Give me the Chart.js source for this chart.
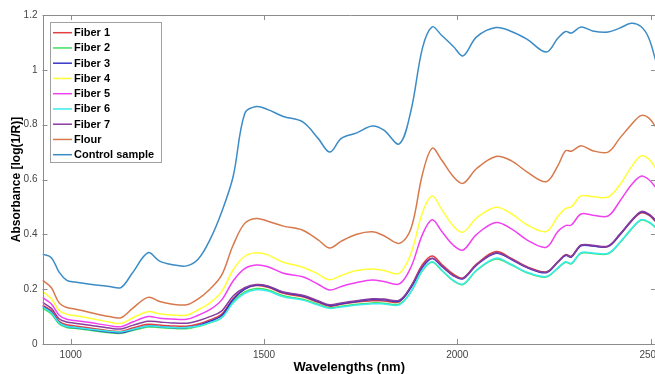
<!DOCTYPE html>
<html>
<head>
<meta charset="utf-8">
<script src="https://cdn.jsdelivr.net/npm/chart.js@4.4.1/dist/chart.umd.min.js"></script>
<style>
html,body{margin:0;padding:0;background:#fff;overflow:hidden;width:655px;height:374px;}
#wrap{position:absolute;left:0;top:0;width:690px;height:374px;}
</style>
</head>
<body>
<div id="wrap"><canvas id="c" width="690" height="374"></canvas></div>
<script>
const wavelengths = [927,950,970,990,1010,1050,1100,1130,1160,1200,1230,1260,1300,1330,1360,1390,1420,1450,1480,1510,1550,1600,1640,1670,1700,1740,1780,1810,1850,1880,1910,1935,1960,1990,2015,2050,2100,2140,2180,2230,2260,2280,2295,2320,2350,2390,2420,2450,2475,2495,2514];

const fiber1 = [0.142,0.121,0.083,0.070,0.066,0.058,0.048,0.046,0.058,0.072,0.069,0.066,0.065,0.073,0.088,0.108,0.165,0.200,0.213,0.207,0.185,0.172,0.152,0.138,0.145,0.153,0.158,0.157,0.154,0.210,0.290,0.321,0.290,0.255,0.241,0.292,0.337,0.312,0.282,0.263,0.300,0.326,0.320,0.360,0.358,0.355,0.397,0.447,0.478,0.470,0.445];
const fiber2 = [0.130,0.110,0.073,0.060,0.057,0.050,0.041,0.039,0.049,0.062,0.060,0.057,0.056,0.064,0.077,0.096,0.155,0.190,0.202,0.197,0.176,0.163,0.145,0.132,0.138,0.145,0.150,0.149,0.146,0.190,0.268,0.298,0.268,0.230,0.217,0.268,0.310,0.288,0.260,0.244,0.276,0.298,0.292,0.331,0.330,0.329,0.368,0.418,0.451,0.444,0.423];
const fiber3 = [0.138,0.116,0.078,0.064,0.060,0.053,0.044,0.041,0.052,0.066,0.063,0.060,0.060,0.068,0.083,0.103,0.162,0.200,0.215,0.210,0.188,0.175,0.155,0.140,0.147,0.155,0.162,0.161,0.157,0.205,0.280,0.312,0.283,0.249,0.238,0.288,0.331,0.308,0.279,0.260,0.298,0.323,0.317,0.358,0.357,0.356,0.398,0.448,0.481,0.473,0.448];
const fiber4 = [0.191,0.165,0.122,0.108,0.104,0.094,0.080,0.075,0.095,0.118,0.110,0.106,0.105,0.125,0.150,0.190,0.270,0.320,0.333,0.325,0.298,0.280,0.255,0.234,0.250,0.268,0.274,0.268,0.258,0.330,0.480,0.540,0.490,0.430,0.408,0.460,0.499,0.475,0.435,0.410,0.465,0.495,0.500,0.540,0.538,0.536,0.580,0.645,0.686,0.675,0.640];
const fiber5 = [0.170,0.146,0.105,0.090,0.086,0.078,0.067,0.063,0.080,0.100,0.094,0.091,0.090,0.105,0.125,0.160,0.230,0.275,0.288,0.282,0.258,0.245,0.218,0.197,0.210,0.224,0.233,0.228,0.219,0.280,0.400,0.453,0.410,0.360,0.343,0.400,0.443,0.420,0.380,0.353,0.410,0.432,0.434,0.474,0.470,0.467,0.520,0.580,0.612,0.600,0.570];
const fiber6 = [0.135,0.114,0.077,0.064,0.061,0.054,0.046,0.044,0.053,0.066,0.063,0.060,0.060,0.066,0.078,0.095,0.150,0.185,0.198,0.193,0.172,0.160,0.142,0.130,0.135,0.142,0.147,0.146,0.143,0.190,0.270,0.300,0.270,0.232,0.219,0.270,0.313,0.290,0.262,0.246,0.278,0.300,0.294,0.333,0.332,0.331,0.370,0.420,0.453,0.446,0.425];
const fiber7 = [0.152,0.130,0.092,0.080,0.076,0.068,0.058,0.055,0.068,0.083,0.080,0.077,0.076,0.085,0.100,0.120,0.175,0.205,0.217,0.212,0.190,0.178,0.158,0.143,0.150,0.158,0.165,0.164,0.160,0.210,0.285,0.313,0.285,0.250,0.240,0.290,0.333,0.310,0.280,0.262,0.300,0.325,0.319,0.361,0.360,0.358,0.400,0.450,0.483,0.475,0.450];
const flour = [0.233,0.205,0.150,0.133,0.128,0.115,0.100,0.096,0.130,0.170,0.155,0.146,0.143,0.165,0.200,0.250,0.360,0.440,0.458,0.448,0.430,0.415,0.380,0.350,0.375,0.400,0.409,0.395,0.367,0.420,0.620,0.714,0.670,0.610,0.586,0.640,0.684,0.668,0.628,0.592,0.650,0.705,0.703,0.723,0.705,0.700,0.750,0.800,0.833,0.825,0.790];
const control = [0.328,0.315,0.262,0.232,0.226,0.218,0.210,0.206,0.260,0.333,0.302,0.290,0.285,0.310,0.380,0.480,0.610,0.840,0.866,0.855,0.830,0.810,0.750,0.700,0.750,0.770,0.795,0.780,0.730,0.850,1.080,1.157,1.125,1.085,1.051,1.120,1.154,1.140,1.112,1.065,1.115,1.140,1.134,1.156,1.142,1.138,1.152,1.170,1.158,1.117,1.030];

const seriesLabels = ['Fiber 1','Fiber 2','Fiber 3','Fiber 4','Fiber 5','Fiber 6','Fiber 7','Flour','Control sample'];
const seriesValues = [fiber1,fiber2,fiber3,fiber4,fiber5,fiber6,fiber7,flour,control];
const seriesColors = ['#e04040','#40e060','#3535c8','#ffff38','#f040f0','#38ecec','#8a3d9e','#d8794c','#3b8cc6'];
const xTicks = [1000,1500,2000,2500];
const yTicks = [0,0.2,0.4,0.6,0.8,1,1.2];

const datasets = seriesValues.map((vals,i)=>({
  label: seriesLabels[i],
  data: wavelengths.map((w,j)=>({x:w,y:vals[j]})),
  borderColor: seriesColors[i],
  backgroundColor: seriesColors[i],
  borderWidth: 1.5,
  pointRadius: 0,
  tension: 0.35,
  fill: false,
  order: seriesValues.length - i
}));

const frame = {
  id: 'frame',
  afterDraw(chart){
    const ctx = chart.ctx, a = chart.chartArea;
    const xs = chart.scales.x, ys = chart.scales.y;
    ctx.save();
    ctx.strokeStyle = '#8c8c8c';
    ctx.lineWidth = 1;
    ctx.beginPath();
    ctx.rect(Math.round(a.left)+0.5, Math.round(a.top)+0.5, Math.round(a.right-a.left), Math.round(a.bottom-a.top));
    ctx.stroke();
    const tl = 5;
    ctx.beginPath();
    xTicks.forEach(v=>{
      const px = Math.round(xs.getPixelForValue(v))+0.5;
      ctx.moveTo(px, a.bottom); ctx.lineTo(px, a.bottom-tl);
      ctx.moveTo(px, a.top); ctx.lineTo(px, a.top+tl);
    });
    yTicks.forEach(v=>{
      const py = Math.round(ys.getPixelForValue(v))+0.5;
      ctx.moveTo(a.left, py); ctx.lineTo(a.left+tl, py);
      ctx.moveTo(a.right, py); ctx.lineTo(a.right-tl, py);
    });
    ctx.stroke();
    // legend box
    const lx = 50.5, ly = 22.5, lw = 111, lh = 140;
    ctx.fillStyle = '#ffffff';
    ctx.fillRect(lx, ly, lw, lh);
    ctx.strokeStyle = '#a0a0a0';
    ctx.strokeRect(lx, ly, lw, lh);
    ctx.font = 'bold 11px "Liberation Sans", Arial, sans-serif';
    ctx.textBaseline = 'middle';
    ctx.textAlign = 'left';
    chart.data.datasets.forEach((ds,i)=>{
      const y = 32.7 + i*15.25;
      ctx.strokeStyle = ds.borderColor;
      ctx.lineWidth = 1.5;
      ctx.beginPath();
      ctx.moveTo(53, y); ctx.lineTo(72, y);
      ctx.stroke();
      ctx.fillStyle = '#000';
      ctx.fillText(ds.label, 74, y+0.5);
    });
    ctx.restore();
  }
};

new Chart(document.getElementById('c'), {
  type: 'line',
  data: { datasets },
  options: {
    responsive: false,
    animation: false,
    devicePixelRatio: 1,
    layout: { padding: { left: 0, top: 15, right: 34, bottom: 0 } },
    plugins: { legend: { display: false }, tooltip: { enabled: false } },
    scales: {
      x: {
        type: 'linear',
        min: 927, max: 2514,
        afterBuildTicks: s => { s.ticks = xTicks.map(v=>({value:v})); },
        afterFit: s => { s.height = 30; },
        grid: { display: false, drawTicks: false },
        border: { display: false },
        ticks: { padding: 5, color: '#444', callback: v => String(v), font: { family: '"Liberation Sans", Arial, sans-serif', size: 10 }, maxRotation: 0, autoSkip: false },
        title: { display: true, text: 'Wavelengths (nm)', color: '#000', padding: { top: 0, bottom: 0 }, font: { family: '"Liberation Sans", Arial, sans-serif', size: 13, weight: 'bold', lineHeight: 1 } }
      },
      y: {
        min: 0, max: 1.2,
        afterBuildTicks: s => { s.ticks = yTicks.map(v=>({value:v})); },
        afterFit: s => { s.width = 42.5; },
        grid: { display: false, drawTicks: false },
        border: { display: false },
        ticks: { padding: 5, color: '#444', callback: v => String(Math.round(v*10)/10), font: { family: '"Liberation Sans", Arial, sans-serif', size: 10 } },
        title: { display: true, text: 'Absorbance [log(1/R)]', color: '#000', padding: { top: 11, bottom: 0 }, font: { family: '"Liberation Sans", Arial, sans-serif', size: 12, weight: 'bold', lineHeight: 1 } }
      }
    }
  },
  plugins: [frame]
});
</script>
</body>
</html>
